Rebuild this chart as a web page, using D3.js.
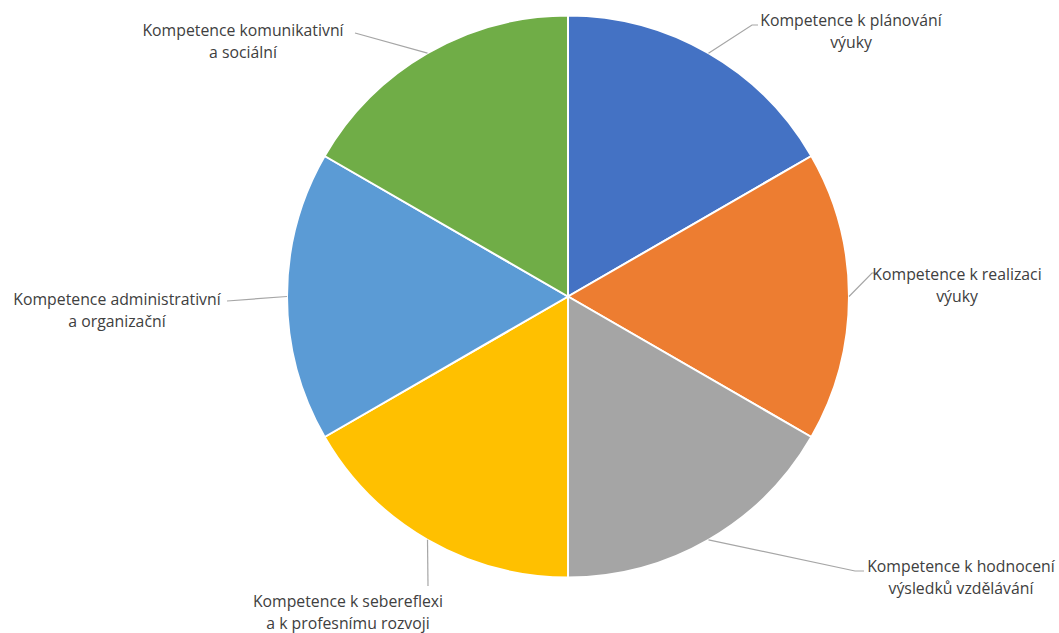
<!DOCTYPE html>
<html>
<head>
<meta charset="utf-8">
<script src="https://cdn.jsdelivr.net/npm/d3@7"></script>
<style>
  body { margin: 0; background: #fff; }
  text { font-family: "Open Sans", sans-serif; fill: #404040; }
</style>
</head>
<body>
<div id="chart"></div>
<script>
// Chart data
const categories = [
  ["Kompetence k plánování", "výuky"],
  ["Kompetence k realizaci", "výuky"],
  ["Kompetence k hodnocení", "výsledků vzdělávání"],
  ["Kompetence k sebereflexi", "a k profesnímu rozvoji"],
  ["Kompetence administrativní", "a organizační"],
  ["Kompetence komunikativní", "a sociální"]
];
const values = [1, 1, 1, 1, 1, 1];
const colors = ["#4472C4", "#ED7D31", "#A5A5A5", "#FFC000", "#5B9BD5", "#70AD47"];

// Label layout: elbow point, end of leader, text centre (x) and first baseline (y)
const labelLayout = [
  {elbow: [752, 25], end: [758, 25], tx: 851, ty: 26},
  {elbow: [872, 273], end: [877, 273], tx: 957, ty: 280},
  {elbow: [855, 571], end: [864, 571], tx: 961, ty: 572},
  {elbow: [428, 586], end: [428, 586], tx: 348, ty: 607},
  {elbow: [227, 301], end: [227, 301], tx: 117, ty: 305},
  {elbow: [355, 33], end: [355, 33], tx: 243, ty: 36}
];

const width = 1059, height = 633;
const cx = 568, cy = 296.5, radius = 281;

const svg = d3.select("#chart").append("svg")
    .attr("width", width)
    .attr("height", height);

const g = svg.append("g").attr("transform", `translate(${cx},${cy})`);

const pie = d3.pie().sort(null).value(d => d);
const arcs = pie(values);

const arc = d3.arc().innerRadius(0).outerRadius(radius);
const edgeArc = d3.arc().innerRadius(radius).outerRadius(radius);

g.selectAll("path.slice")
    .data(arcs)
  .enter().append("path")
    .attr("class", "slice")
    .attr("d", arc)
    .attr("fill", (d, i) => colors[i])
    .attr("stroke", "#fff")
    .attr("stroke-width", 2);

// Leader lines
const line = d3.line();
svg.selectAll("path.leader")
    .data(arcs)
  .enter().append("path")
    .attr("class", "leader")
    .attr("d", (d, i) => {
      const c = edgeArc.centroid(d);
      const L = labelLayout[i];
      return line([[cx + c[0], cy + c[1]], L.elbow, L.end]);
    })
    .attr("fill", "none")
    .attr("stroke", "#a6a6a6")
    .attr("stroke-width", 1.2);

// Labels
const labels = svg.selectAll("text.label")
    .data(categories)
  .enter().append("text")
    .attr("class", "label")
    .attr("text-anchor", "middle")
    .attr("font-size", 15.8)
    .attr("x", (d, i) => labelLayout[i].tx)
    .attr("y", (d, i) => labelLayout[i].ty);

labels.selectAll("tspan")
    .data((d, i) => d.map(t => ({t, i})))
  .enter().append("tspan")
    .attr("x", d => labelLayout[d.i].tx)
    .attr("dy", (d, j) => j === 0 ? 0 : 22)
    .text(d => d.t);
</script>
</body>
</html>
